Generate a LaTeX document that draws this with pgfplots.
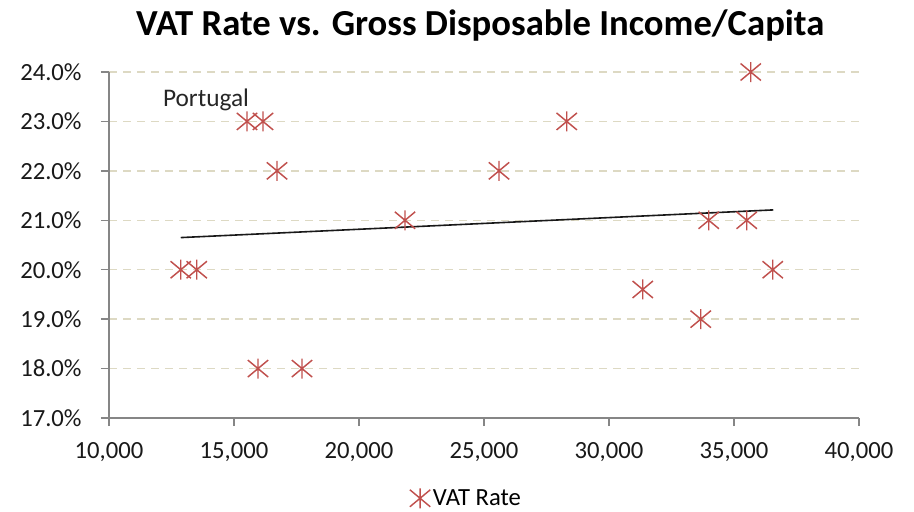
\documentclass[border=0pt]{standalone}
\usepackage{fontspec}
\setmainfont{Carlito}
\usepackage{pgfplots}
\pgfplotsset{compat=1.18}
\definecolor{vatred}{HTML}{C0504D}
\definecolor{gridtan}{HTML}{DDD9C3}
\definecolor{axisgray}{HTML}{868686}
\pgfdeclareplotmark{vatstar}{%
 \pgfpathmoveto{\pgfqpoint{0pt}{\pgfplotmarksize}}%
 \pgfpathlineto{\pgfqpoint{0pt}{-\pgfplotmarksize}}%
 \pgfpathmoveto{\pgfqpoint{1.02\pgfplotmarksize}{0.85\pgfplotmarksize}}%
 \pgfpathlineto{\pgfqpoint{-1.02\pgfplotmarksize}{-0.85\pgfplotmarksize}}%
 \pgfpathmoveto{\pgfqpoint{-1.02\pgfplotmarksize}{0.85\pgfplotmarksize}}%
 \pgfpathlineto{\pgfqpoint{1.02\pgfplotmarksize}{-0.85\pgfplotmarksize}}%
 \pgfusepathqstroke}
\begin{document}
\begin{tikzpicture}
\useasboundingbox (0,0) rectangle (685.5pt,383.25pt);
\begin{axis}[
 at={(81.75pt,69.75pt)}, anchor=south west,
 scale only axis, width=562.5pt, height=259.5pt,
 xmin=10000, xmax=40000, ymin=17, ymax=24,
 xtick={10000,15000,...,40000}, ytick={17,...,24},
 scaled x ticks=false,
 xticklabel style={/pgf/number format/1000 sep={,}, yshift=-9pt},
 yticklabel={\pgfmathprintnumber[fixed,fixed zerofill,precision=1]{\tick}\%},
 /pgf/number format/assume math mode=true,
 ticklabel style={font=\fontsize{18.5}{22}\selectfont, color=black!90},
 yticklabel style={xshift=-11pt},
 axis x line*=bottom, axis y line*=left,
 axis line style={axisgray, line width=1.1pt, -},
 tick style={axisgray, line width=1.1pt},
 tick align=outside, major tick length=6pt,
 ymajorgrids, grid style={gridtan, line width=1.1pt, dash pattern=on 6pt off 4.5pt},
 title={VAT Rate vs. Gross Disposable Income/Capita},
 title style={font=\fontsize{27.5}{32}\selectfont\bfseries, at={(0.495,1.11)}, anchor=center},
 legend style={at={(0.477,-0.232)}, anchor=center, draw=none, fill=none, font=\fontsize{18.5}{22}\selectfont},
 legend cell align=left,
 clip=false,
]
\addplot[only marks, mark=vatstar, mark size=7.5pt, vatred, line width=1.1pt] coordinates {
 (12870,20.0) (13510,20.0)
 (15520,23.0) (16160,23.0)
 (16720,22.0)
 (15960,18.0) (17720,18.0)
 (21840,21.0)
 (25600,22.0)
 (28310,23.0)
 (31350,19.6)
 (33670,19.0)
 (33990,21.0) (35510,21.0)
 (35670,24.0)
 (36550,20.0)
};
\addlegendentry{VAT Rate}
\addplot[black!90, line width=1.2pt, forget plot] coordinates {(12870,20.65) (36570,21.21)};
\node[font=\fontsize{19}{23}\selectfont, text=black!85, anchor=base] at (axis cs:13880,23.31) {Portugal};
\end{axis}
\end{tikzpicture}
\end{document}
